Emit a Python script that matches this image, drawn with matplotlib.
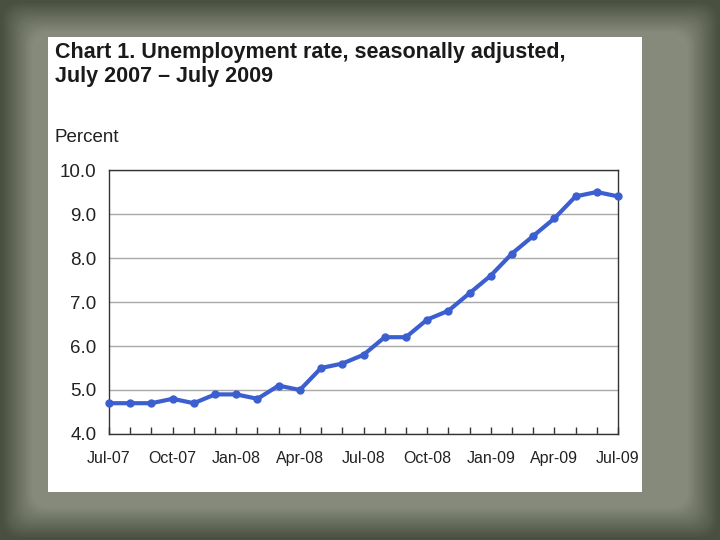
import matplotlib
matplotlib.use("Agg")
import matplotlib.pyplot as plt
import matplotlib.colors as mcolors
from matplotlib.patches import Rectangle, FancyBboxPatch

plt.rcParams['font.family'] = ['Liberation Sans', 'DejaVu Sans']

months = ['Jul-07', 'Aug-07', 'Sep-07', 'Oct-07', 'Nov-07', 'Dec-07',
          'Jan-08', 'Feb-08', 'Mar-08', 'Apr-08', 'May-08', 'Jun-08',
          'Jul-08', 'Aug-08', 'Sep-08', 'Oct-08', 'Nov-08', 'Dec-08',
          'Jan-09', 'Feb-09', 'Mar-09', 'Apr-09', 'May-09', 'Jun-09', 'Jul-09']
rate = [4.7, 4.7, 4.7, 4.8, 4.7, 4.9, 4.9, 4.8, 5.1, 5.0, 5.5, 5.6,
        5.8, 6.2, 6.2, 6.6, 6.8, 7.2, 7.6, 8.1, 8.5, 8.9, 9.4, 9.5, 9.4]
yticks = [4.0, 5.0, 6.0, 7.0, 8.0, 9.0, 10.0]

fig = plt.figure(figsize=(7.2, 5.4), dpi=100)
fig.patch.set_facecolor('#4a503f')

# slide background: dark frame fading into a lighter inner paper
bg = fig.add_axes([0, 0, 1, 1])
bg.set_xlim(0, 720)
bg.set_ylim(540, 0)
bg.axis('off')
dark = mcolors.to_rgb('#4a503f')
light = mcolors.to_rgb('#858a7b')
steps = 14
for i in range(steps):
    t = (i + 1) / steps
    pad = 3 + i * 2.2
    col = tuple(d + (l - d) * t for d, l in zip(dark, light))
    bg.add_patch(FancyBboxPatch((pad, pad), 720 - 2 * pad, 540 - 2 * pad,
                                boxstyle='round,pad=0,rounding_size=18',
                                fc=col, ec='none'))
bg.add_patch(Rectangle((48, 37), 594, 455, fc='white', ec='none'))

bg.text(55, 42, 'Chart 1. Unemployment rate, seasonally adjusted,',
        fontsize=15.5, fontweight='bold', color='#1a1a1a', va='top', ha='left')
bg.text(55, 66, 'July 2007 \u2013 July 2009',
        fontsize=15.5, fontweight='bold', color='#1a1a1a', va='top', ha='left')
bg.text(55, 137, 'Percent', fontsize=13.5, color='#222222', va='center', ha='left')

ax = fig.add_axes([109 / 720, 1 - 434 / 540, 509 / 720, 264 / 540])
x = list(range(len(rate)))
ax.plot(x, rate, color='#3c5fd0', lw=3, marker='o', markersize=5,
        clip_on=False, zorder=3)

ax.set_xlim(0, len(rate) - 1)
ax.set_ylim(4, 10)
ax.set_yticks(yticks)
ax.set_yticklabels(['%.1f' % v for v in yticks], fontsize=13.5, color='#222222')
ax.set_xticks(x[::3])
ax.set_xticklabels(months[::3], fontsize=11.5, color='#222222')
ax.set_xticks(x, minor=True)
ax.tick_params(axis='x', which='both', direction='in', length=5, width=1,
               color='#333333', pad=12)
ax.tick_params(axis='y', length=0, pad=9)
ax.grid(axis='y', color='#a8a8a8', lw=1)
ax.set_axisbelow(True)
for s in ax.spines.values():
    s.set_color('#333333')
    s.set_linewidth(1)

fig.savefig('out.png', dpi=100, facecolor=fig.get_facecolor())
